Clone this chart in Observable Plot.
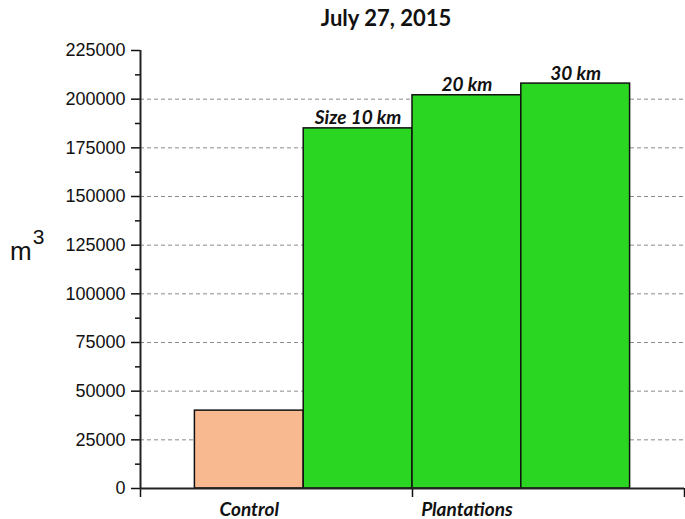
<!DOCTYPE html>
<html>
<head>
<meta charset="utf-8">
<script src="https://cdn.jsdelivr.net/npm/d3@7"></script>
<script src="https://cdn.jsdelivr.net/npm/@observablehq/plot@0.6"></script>
<style>
  body { margin: 0; background: #fff; }
  #wrap { position: relative; width: 685px; height: 519px; overflow: hidden; background: #fff; }
  #title { position: absolute; left: 236px; width: 300px; top: 7px; text-align: center; z-index: 2;
           font-family: Lato, sans-serif; font-weight: bold; font-size: 22px; line-height: 22px; color: #111; }
  #ylab { position: absolute; left: 10px; top: 238px; z-index: 2; font-family: "Liberation Sans", Arial, sans-serif;
          font-size: 26px; line-height: 26px; color: #111; white-space: nowrap; }
  #ylab span { font-size: 21px; position: relative; top: -16px; margin-left: 1px; }
  #chart { position: absolute; left: 0; top: 36px; z-index: 1; }
  #chart svg { display: block; }
</style>
</head>
<body>
<div id="wrap">
  <div id="chart"></div>
  <div id="title">July 27, 2015</div>
  <div id="ylab">m<span>3</span></div>
</div>
<script>
// ---- data ----
const categories = ["Control", "Size 10 km", "20 km", "30 km"];
const values = [40000, 185000, 202000, 208000];
const groups = ["Control", "Plantations", "Plantations", "Plantations"];
const barLabels = ["", "Size 10 km", "20 km", "30 km"];
const groupNames = ["Control", "Plantations"];
const yTicks = [0, 25000, 50000, 75000, 100000, 125000, 150000, 175000, 200000, 225000];
const yMinorTicks = [12500, 37500, 62500, 87500, 112500, 137500, 162500, 187500, 212500];
const groupColors = { "Control": "#F8B890", "Plantations": "#2AD622" };

// ---- build table ----
const bars = categories.map((c, i) => ({
  cat: c, value: values[i], group: groups[i], label: barLabels[i],
  x1: i + 0.5, x2: i + 1.5
}));
const groupData = groupNames.map(g => {
  const members = bars.filter(b => b.group === g);
  return { name: g, x: d3.mean(members, b => (b.x1 + b.x2) / 2) };
});
const xBounds = [0, 2.5, 5];

const chart = Plot.plot({
  width: 685,
  height: 483,
  marginTop: 14,
  marginBottom: 31,
  marginLeft: 140,
  marginRight: 1,
  x: { domain: [0, 5], axis: null },
  y: { domain: [0, 225000], axis: null },
  style: { fontFamily: "'Liberation Sans', Arial, sans-serif", fontSize: "18px", color: "#111", background: "#fff", overflow: "visible" },
  marks: [
    Plot.ruleY(yTicks.filter(d => d > 0 && d < 225000), { x1: 0, x2: 5, stroke: "#8a8a8a", strokeWidth: 1, strokeDasharray: "4,3" }),
    Plot.rectY(bars, { x1: "x1", x2: "x2", y1: 0, y2: "value", fill: d => groupColors[d.group], stroke: "#111", strokeWidth: 1.5 }),
    Plot.text(bars.filter(d => d.label), {
      x: d => (d.x1 + d.x2) / 2, y: "value", text: "label", dy: -4, lineAnchor: "bottom",
      fontFamily: "Lato, sans-serif", fontWeight: "bold", fontStyle: "italic", fontSize: 19, fill: "#111"
    }),
    Plot.axisY({ ticks: yTicks, tickSize: 9, tickPadding: 6, tickFormat: d => String(d), label: null, strokeWidth: 1.5, fontSize: 18 }),
    Plot.axisY({ ticks: yMinorTicks, tickSize: 5, tickFormat: () => "", label: null, strokeWidth: 1.5 }),
    Plot.axisX({ ticks: xBounds, tickSize: 9, tickFormat: () => "", label: null, strokeWidth: 1.5 }),
    Plot.ruleX([0], { y1: 0, y2: 225000, stroke: "#222", strokeWidth: 2 }),
    Plot.ruleY([0], { x1: 0, x2: 5, stroke: "#222", strokeWidth: 2 }),
    Plot.text(groupData, {
      x: "x", text: "name", frameAnchor: "bottom", dy: 27, lineAnchor: "bottom",
      fontFamily: "Lato, sans-serif", fontWeight: "bold", fontStyle: "italic", fontSize: 19, fill: "#111"
    })
  ]
});
document.getElementById("chart").appendChild(chart);
</script>
</body>
</html>
